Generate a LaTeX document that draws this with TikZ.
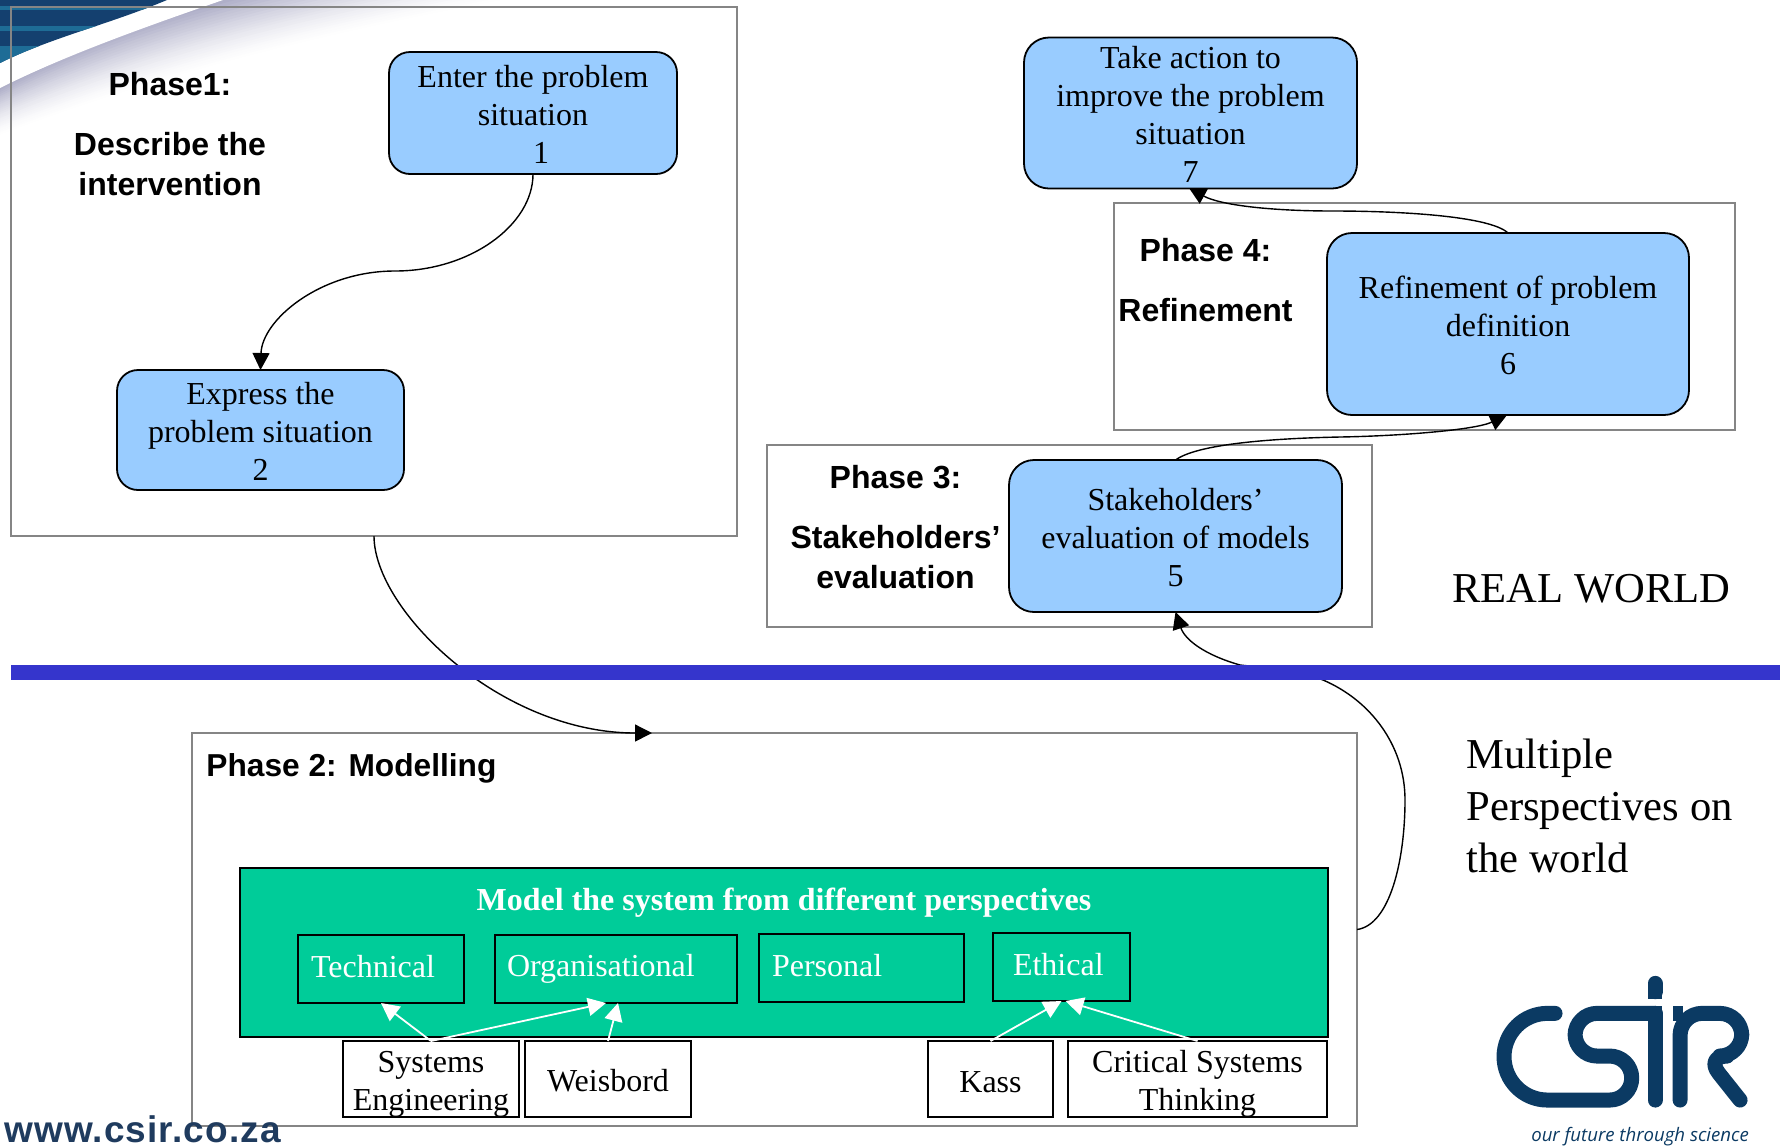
\documentclass[tikz,border=0pt]{standalone}
\usepackage{fontspec}
\setmainfont{Liberation Serif}
\newfontfamily\arialf{Liberation Sans}
\newfontfamily\urlf[LetterSpace=3]{Liberation Sans}
\newfontfamily\tagf{Open Sans}
\usetikzlibrary{arrows.meta}
\definecolor{bluebox}{HTML}{99CCFF}
\definecolor{greenbox}{HTML}{00CC99}
\definecolor{barblue}{HTML}{3535CC}
\definecolor{framegray}{HTML}{858585}
\definecolor{navy}{HTML}{0B3A63}
\definecolor{urlc}{HTML}{1F3B5E}
\definecolor{lav}{HTML}{A9A9C4}
\definecolor{swdark}{HTML}{14406F}
\definecolor{swlight}{HTML}{1E6C96}
\newcommand\firstline[1]{\rule{0pt}{#1pt}}
\newcommand\viewstrut{\rule[-3pt]{0pt}{14pt}}
\tikzset{
  wh/.style 2 args={minimum width=#1*0.5pt,minimum height=#2*0.5pt,inner sep=0pt,outer sep=0pt},
  frame/.style={draw=framegray,line width=1pt},
  step box/.style={draw=black,line width=0.9pt,fill=bluebox,align=center,font=\fontsize{16}{19}\selectfont},
  source box/.style={draw=black,line width=0.9pt,fill=white,align=center,font=\fontsize{16}{19}\selectfont},
  view box/.style={draw=black,line width=0.9pt,align=left,text=white,font=\fontsize{16}{19}\selectfont},
  phase label/.style={align=center,inner sep=0pt,font=\arialf\bfseries\fontsize{16}{20}\selectfont},
  big label/.style={align=left,anchor=west,inner sep=0pt,font=\fontsize{21.3}{26}\selectfont},
  conn/.style={black,line width=0.7pt,-{Triangle[length=8.5pt,width=8.5pt]}},
  white conn/.style={white,line width=0.9pt,-{Triangle[length=9pt,width=9pt]}},
  logo/.style={navy,line width=7.5pt,line cap=round,line join=round},
}
\begin{document}
\begin{tikzpicture}[x=0.5pt,y=-0.5pt]
\useasboundingbox (0,0) rectangle (1780,1147);
% corner swoosh
\foreach \i in {24,23,...,0}{
  \pgfmathtruncatemacro\c{100*(1-\i/25)^1.6}
  \pgfmathsetmacro\xe{223+12*\i}
  \pgfmathsetmacro\ye{88+2*\i}
  \fill[lav!\c!white] (0,0) -- (\xe,0) .. controls ({\xe*0.6},{\ye*0.28}) and ({\xe*0.3},{\ye*0.58}) .. (0,\ye) -- cycle;
}
\fill[white] (0,0) -- (223,0) .. controls (130,32) and (60,58) .. (0,88) -- cycle;
\fill[swdark] (0,0) -- (167,0) .. controls (110,24) and (50,38) .. (0,63) -- cycle;
\begin{scope}
\clip (0,0) -- (167,0) .. controls (110,24) and (50,38) .. (0,63) -- cycle;
\fill[swlight] (0,6) rectangle (160,10);
\fill[swlight] (0,26) rectangle (160,31);
\fill[swlight] (0,46) rectangle (160,63);
\end{scope}
% phase frames
\node[frame,wh={726}{529}] (phaseA) at (374,271.5) {};
\node[frame,wh={621}{227}] (phaseD) at (1424.5,316.5) {};
\node[frame,wh={605}{182}] (phaseC) at (1069.5,536) {};
\node[frame,wh={1165}{393}] (phaseB) at (774.5,929.5) {};
\coordinate (phaseBin) at (652,733);
\coordinate (sixTip) at (1507,415);
\coordinate (sevenTip) at (1189,188);
% process steps
\node[step box,rounded corners=10.5pt,wh={288}{122}] (s1) at (533,113) {\firstline{12.1}Enter the problem\\situation\\\hspace*{8pt}1};
\node[step box,rounded corners=10.5pt,wh={287}{120}] (s2) at (260.5,430) {\firstline{12.1}Express the\\problem situation\\2};
\node[step box,rounded corners=12.5pt,wh={362}{182}] (s6) at (1508,324) {\firstline{13}Refinement of problem\\definition\\6};
\node[step box,rounded corners=12.5pt,wh={333}{152}] (s5) at (1175.5,536) {\firstline{12.6}Stakeholders’\\evaluation of models\\5};
\node[step box,rounded corners=12.5pt,wh={333}{151}] (s7) at (1190.5,113) {\firstline{12.5}Take action to\\improve the problem\\situation\\7};
% connectors
\draw[conn] (s1.south) .. controls (533,225) and (470,271) .. (395,271) .. controls (320,271) and (262,320) .. (s2.north);
\draw[conn] (phaseA.south) .. controls (374,610) and (500,733) .. (phaseBin);
\draw[conn] (phaseB.east) .. controls (1390,925) and (1405,860) .. (1405,800) .. controls (1405,745) and (1370,700) .. (1323,680) .. controls (1295,668) and (1265,668) .. (1240,665) .. controls (1205,655) and (1185,640) .. (s5.south);
\draw[conn] (s5.north) .. controls (1200,442) and (1290,438) .. (1340,437) .. controls (1400,436) and (1475,430) .. (sixTip);
\draw[conn] (s6.north) .. controls (1490,216) and (1400,211) .. (1333,211) .. controls (1270,211) and (1220,205) .. (sevenTip);
% divider
\node[fill=barblue,wh={1769}{15}] (bar) at (895.5,672.5) {};
% text labels
\node[phase label] (labA) at (170,134) {Phase1:\\[10pt]Describe the\\intervention};
\node[phase label] (labD) at (1205.5,280.5) {Phase 4:\\[10pt]Refinement};
\node[phase label] (labC) at (895.5,527) {Phase 3:\\[10pt]Stakeholders’\\evaluation};
\node[phase label,anchor=west,font=\arialf\bfseries\fontsize{15.85}{20}\selectfont] (labB) at (206,768) {Phase 2: Modelling};
\node[big label] (real) at (1452,589) {REAL WORLD};
\node[big label] (multi) at (1466,806) {Multiple\\Perspectives on\\the world};
% modelling
\node[fill=greenbox,draw=black,line width=0.9pt,wh={1088}{169}] (green) at (784,952.5) {};
\node[inner sep=0pt,text=white,font=\bfseries\fontsize{16}{19}\selectfont] (title) at (784,902.5) {Model the system from different perspectives};
\node[view box,wh={166}{68},anchor=north west,inner xsep=6.5pt,text width=70pt] (tech) at (298,935) {\viewstrut Technical};
\node[view box,wh={242}{68},anchor=north west,inner xsep=6pt,text width=109pt] (org) at (495,935) {\viewstrut Organisational};
\node[view box,wh={205}{68},anchor=north west,inner xsep=6.5pt,text width=89.5pt] (pers) at (759,934) {\viewstrut Personal};
\node[view box,wh={137}{68},anchor=north west,inner xsep=10pt,text width=48.5pt] (eth) at (993,933) {\viewstrut Ethical};
\node[source box,wh={176}{76}] (se) at (431,1079) {\firstline{15.5}Systems\\Engineering};
\node[source box,wh={166}{76}] (wei) at (608,1079) {\firstline{13.2}Weisbord};
\node[source box,wh={125}{76}] (kass) at (990.5,1079) {\firstline{13.2}Kass};
\node[source box,wh={259}{76}] (cst) at (1197.5,1079) {\firstline{15.5}Critical Systems\\Thinking};
\draw[white conn] (se.north) -- (tech.south);
\draw[white conn] (se.north) -- ([xshift=-5pt]org.south);
\draw[white conn] (wei.north) -- ([xshift=1pt]org.south);
\draw[white conn] (kass.north) -- (eth.south);
\draw[white conn] (cst.north) -- ([xshift=2pt]eth.south);
% footer url
\node[inner sep=0pt,anchor=west,text=urlc,font=\urlf\bfseries\fontsize{18.5}{20}\selectfont] (url) at (4,1129) {www.csir.co.za};
% logo
\begin{scope}[shift={(1440,950)},x=0.1667pt,y=-0.1667pt]
\draw[logo,rounded corners=21.7pt] (345,190) -- (192,190) -- (192,450) [rounded corners=11pt] -- (575,450) -- (575,318) -- (405,318) -- (405,190) -- (645,190);
\fill[navy] (640,168) rectangle (667,212);
\draw[logo] (645,190) -- (645,450);
\draw[logo] (645,100) -- (645,125);
\fill[navy] (623,115) rectangle (667,148);
\draw[logo,rounded corners=11pt] (720,450) -- (720,190) -- (905,190) -- (905,318) -- (795,318) [sharp corners] -- (900,450);
\fill[navy] (698,168) rectangle (730,212);
\node[inner sep=0pt,text=navy,font=\tagf\itshape\fontsize{9.3}{11}\selectfont] (tagline) at (600,560) {our future through science};
\end{scope}
\end{tikzpicture}
\end{document}
